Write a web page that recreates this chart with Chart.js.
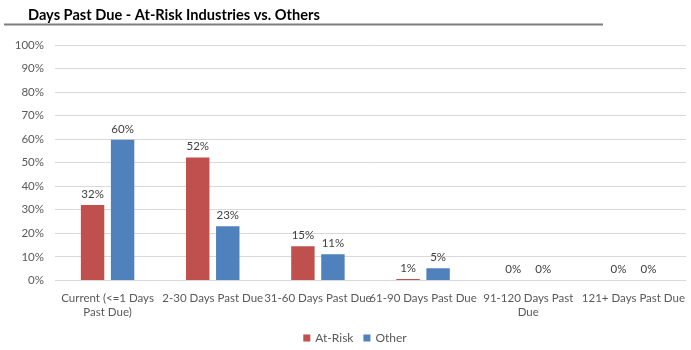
<!DOCTYPE html>
<html>
<head>
<meta charset="utf-8">
<script src="https://cdn.jsdelivr.net/npm/chart.js@4.4.1/dist/chart.umd.min.js"></script>
<style>
  html, body { margin: 0; padding: 0; background: #fff; }
  #wrap { width: 691px; height: 350px; position: relative; }
</style>
</head>
<body>
<div id="wrap"><canvas id="dpdChart"></canvas></div>
<script>
const categories = [
    ['Current (<=1 Days', 'Past Due)'],
    '2-30 Days Past Due',
    '31-60 Days Past Due',
    '61-90 Days Past Due',
    ['91-120 Days Past', 'Due'],
    '121+ Days Past Due'
];
const atRiskValues = [32.0, 52.2, 14.5, 0.6, 0, 0];
const otherValues = [59.7, 23.0, 11.1, 5.2, 0, 0];
const yTicks = [0, 10, 20, 30, 40, 50, 60, 70, 80, 90, 100];

const titleText = 'Days Past Due - At-Risk Industries vs. Others';
const fontFamily = 'Lato, "Open Sans", sans-serif';

// title + rule under it
const titlePlugin = {
    id: 'titleRule',
    beforeDraw(chart) {
        const ctx = chart.ctx;
        ctx.save();
        ctx.fillStyle = '#000';
        ctx.font = 'bold 14.6px ' + fontFamily;
        ctx.textBaseline = 'alphabetic';
        ctx.textAlign = 'left';
        ctx.fillText(titleText, 28, 20);
        ctx.strokeStyle = '#7f7f7f';
        ctx.lineWidth = 2;
        ctx.beginPath();
        ctx.moveTo(4, 24.5);
        ctx.lineTo(603, 24.5);
        ctx.stroke();
        ctx.restore();
    }
};

// value labels above bars
const valueLabels = {
    id: 'valueLabels',
    afterDatasetsDraw(chart) {
        const ctx = chart.ctx;
        ctx.save();
        ctx.fillStyle = '#404040';
        ctx.font = '11.5px ' + fontFamily;
        ctx.textAlign = 'center';
        ctx.textBaseline = 'bottom';
        chart.data.datasets.forEach((ds, i) => {
            chart.getDatasetMeta(i).data.forEach((bar, j) => {
                ctx.fillText(Math.round(ds.data[j]) + '%', bar.x, bar.y - 5);
            });
        });
        ctx.restore();
    }
};

// legend drawn by hand so it sits where the original one does
const bottomLegend = {
    id: 'bottomLegend',
    afterDraw(chart) {
        const ctx = chart.ctx;
        const box = 7, gapText = 5, gapItem = 10;
        const y = 338;
        ctx.save();
        ctx.font = '12px ' + fontFamily;
        ctx.textBaseline = 'middle';
        ctx.textAlign = 'left';
        const items = chart.data.datasets.map(ds => ({
            text: ds.label,
            color: ds.backgroundColor,
            w: box + gapText + ctx.measureText(ds.label).width
        }));
        const total = items.reduce((s, it) => s + it.w, 0) + gapItem * (items.length - 1);
        let x = 355 - total / 2;
        items.forEach(it => {
            ctx.fillStyle = it.color;
            ctx.fillRect(x, y - box / 2, box, box);
            ctx.fillStyle = '#595959';
            ctx.fillText(it.text, x + box + gapText, y + 0.5);
            x += it.w + gapItem;
        });
        ctx.restore();
    }
};

new Chart(document.getElementById('dpdChart'), {
    type: 'bar',
    data: {
        labels: categories,
        datasets: [{
            label: 'At-Risk',
            data: atRiskValues,
            backgroundColor: '#C0504D',
            categoryPercentage: 0.571,
            barPercentage: 0.78
        }, {
            label: 'Other',
            data: otherValues,
            backgroundColor: '#4F81BD',
            categoryPercentage: 0.571,
            barPercentage: 0.78
        }]
    },
    options: {
        responsive: true,
        maintainAspectRatio: false,
        animation: false,
        layout: {
            padding: { top: 45, left: 0, right: 5, bottom: 28 }
        },
        plugins: {
            legend: { display: false },
            tooltip: { enabled: false }
        },
        scales: {
            x: {
                grid: { display: false },
                border: { display: false },
                ticks: {
                    color: '#595959',
                    font: { family: fontFamily, size: 11.5 },
                    autoSkip: false,
                    maxRotation: 0,
                    minRotation: 0,
                    padding: 3
                }
            },
            y: {
                min: 0,
                max: 100,
                afterBuildTicks(scale) {
                    scale.ticks = yTicks.map(v => ({ value: v }));
                },
                afterFit(scale) {
                    scale.width = 55;
                },
                grid: { color: '#d9d9d9', drawTicks: false },
                border: { display: false },
                ticks: {
                    color: '#595959',
                    font: { family: fontFamily, size: 11.5 },
                    padding: 11,
                    callback: v => v + '%'
                }
            }
        }
    },
    plugins: [titlePlugin, valueLabels, bottomLegend]
});
</script>
</body>
</html>
